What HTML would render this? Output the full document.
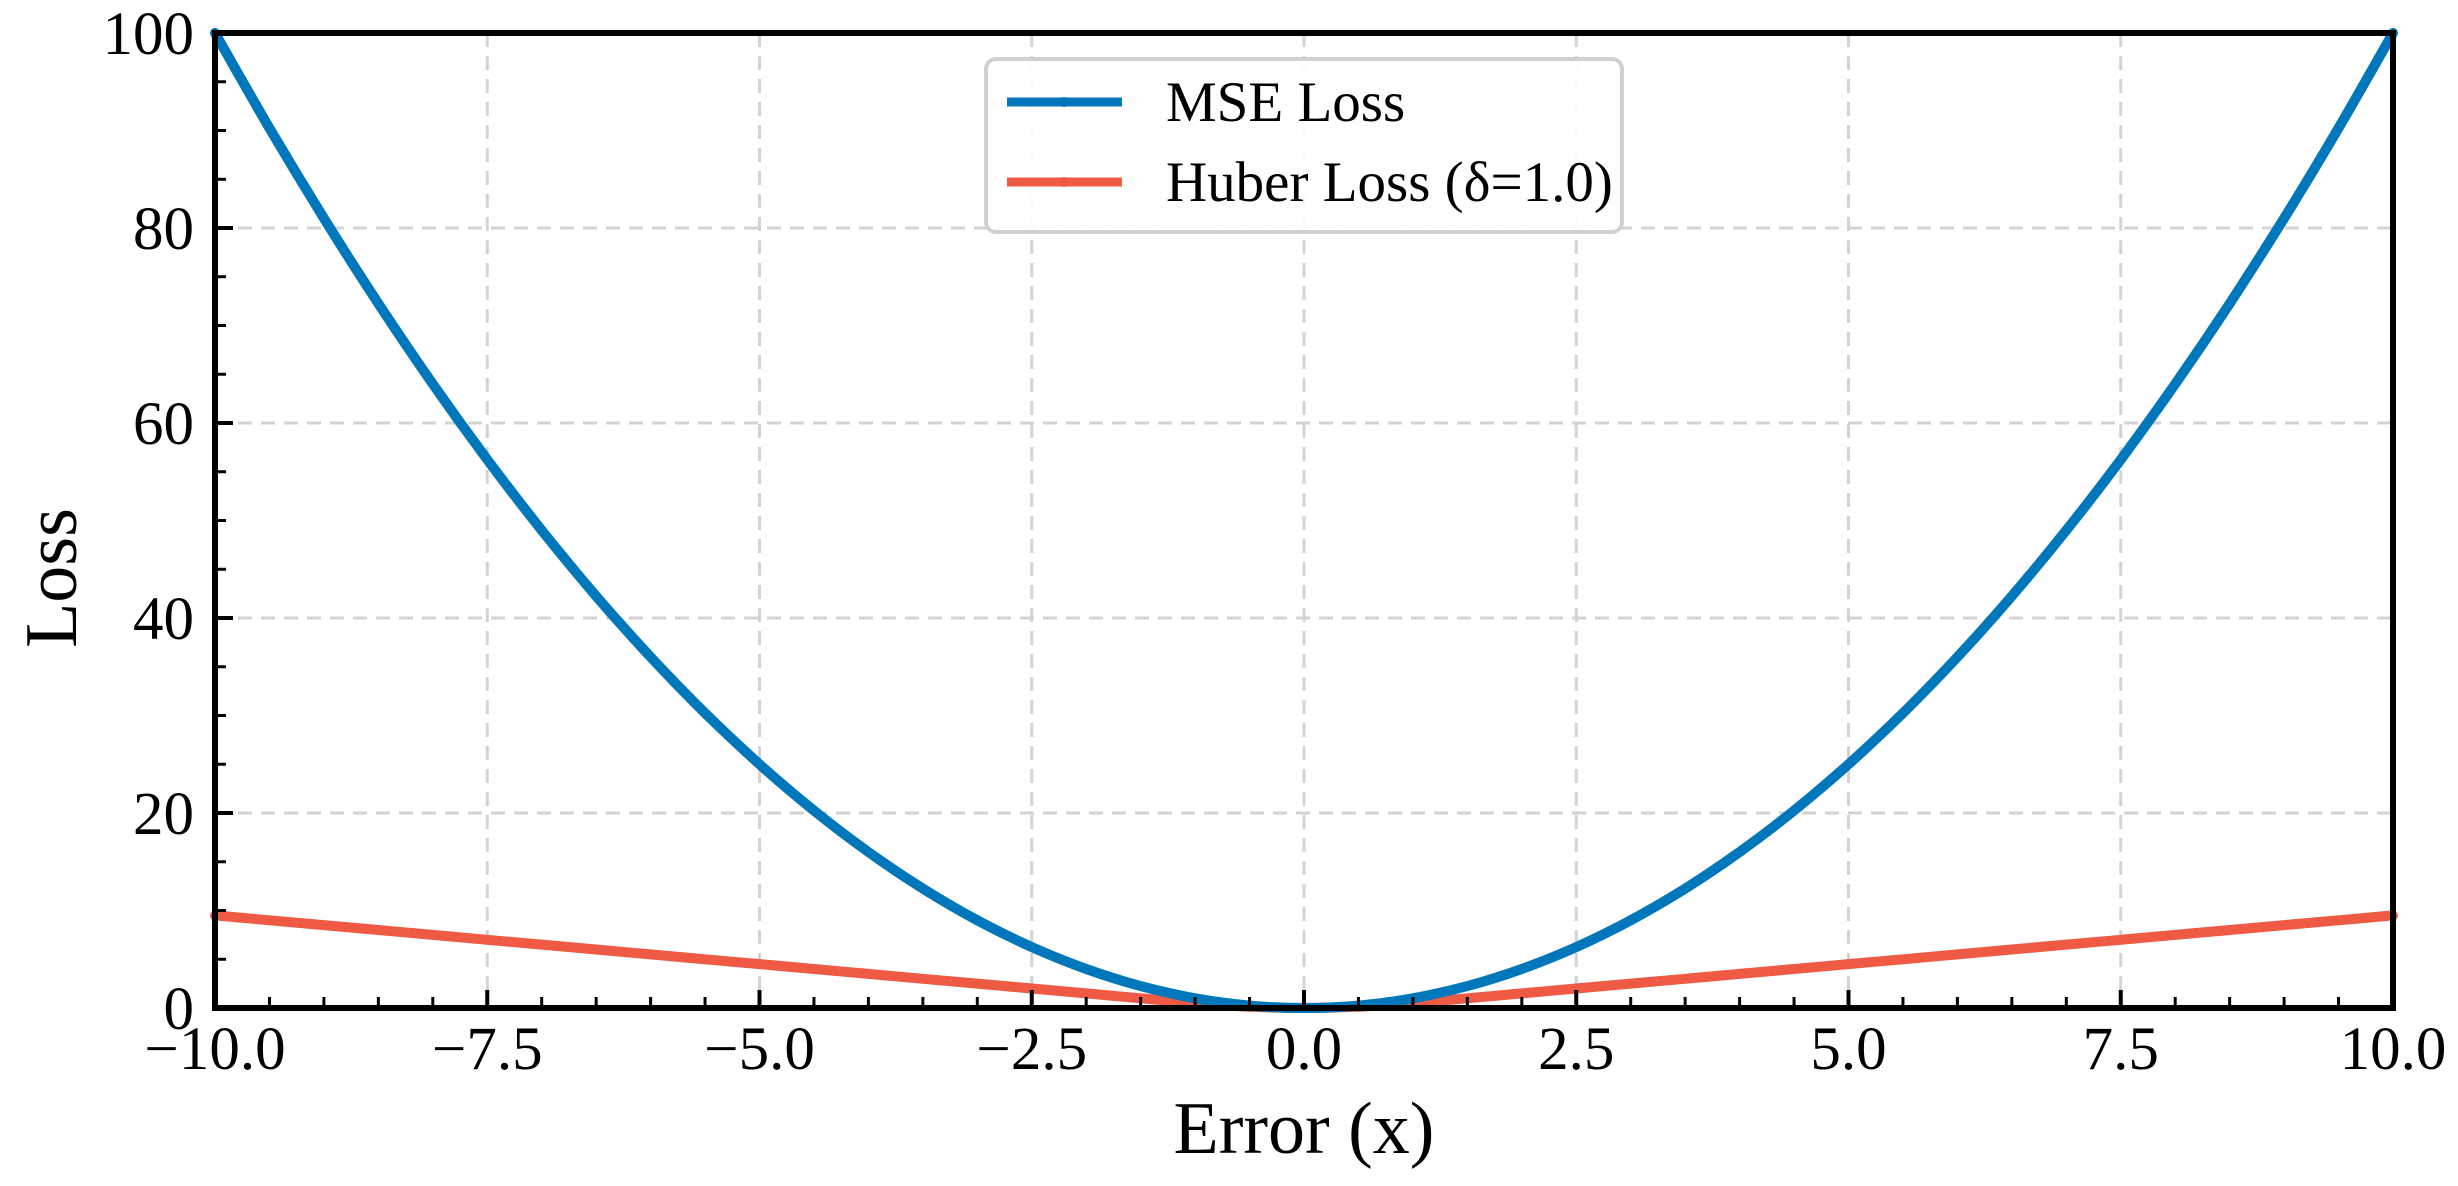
<!DOCTYPE html>
<html><head><meta charset="utf-8"><style>
html,body{margin:0;padding:0;background:#fff;}
svg text{font-family:"Liberation Serif",serif;fill:#000;}
</style></head><body>
<svg id="chart" width="2458" height="1181" xmlns="http://www.w3.org/2000/svg">
<g id="grid"></g>
<g id="series"></g>
<g id="axes"></g>
<g id="legend">
  <rect x="986" y="59" width="636" height="173" rx="10" fill="#fff" fill-opacity="0.9" stroke="#d0d0d0" stroke-width="4"/>
  <line x1="1007" y1="102" x2="1122" y2="102" stroke="#0077bb" stroke-width="9"/>
  <circle cx="1064" cy="102" r="5" fill="#0077bb"/>
  <text x="1166" y="121" font-size="57">MSE Loss</text>
  <line x1="1007" y1="182" x2="1122" y2="182" stroke="#ee5a44" stroke-width="9"/>
  <circle cx="1064" cy="182" r="5" fill="#ee5a44"/>
  <text x="1166" y="201" font-size="57">Huber Loss (δ=1.0)</text>
</g>
<text x="1304" y="1153" font-size="74" text-anchor="middle">Error (x)</text>
<text x="0" y="0" font-size="74" text-anchor="middle" transform="translate(76,578) rotate(-90)">Loss</text>
</svg>
<script>
const xValues = [-10,-9.5,-9,-8.5,-8,-7.5,-7,-6.5,-6,-5.5,-5,-4.5,-4,-3.5,-3,-2.5,-2,-1.5,-1,-0.5,0,0.5,1,1.5,2,2.5,3,3.5,4,4.5,5,5.5,6,6.5,7,7.5,8,8.5,9,9.5,10];
const mseValues = [100,90.25,81,72.25,64,56.25,49,42.25,36,30.25,25,20.25,16,12.25,9,6.25,4,2.25,1,0.25,0,0.25,1,2.25,4,6.25,9,12.25,16,20.25,25,30.25,36,42.25,49,56.25,64,72.25,81,90.25,100];
const huberValues = [9.5,9,8.5,8,7.5,7,6.5,6,5.5,5,4.5,4,3.5,3,2.5,2,1.5,1,0.5,0.125,0,0.125,0.5,1,1.5,2,2.5,3,3.5,4,4.5,5,5.5,6,6.5,7,7.5,8,8.5,9,9.5];
const xTicks = [-10,-7.5,-5,-2.5,0,2.5,5,7.5,10];
const xTickLabels = ["\u221210.0","\u22127.5","\u22125.0","\u22122.5","0.0","2.5","5.0","7.5","10.0"];
const yTicks = [0,20,40,60,80,100];
const yTickLabels = ["0","20","40","60","80","100"];

const L=215,R=2393,T=33,B=1008;
const xS=v=>L+(v+10)/20*(R-L);
const yS=v=>B-v/100*(B-T);
const NS="http://www.w3.org/2000/svg";
function mk(tag,attrs,parent){const e=document.createElementNS(NS,tag);for(const k in attrs)e.setAttribute(k,attrs[k]);parent.appendChild(e);return e;}
const grid=document.getElementById('grid'),series=document.getElementById('series'),axes=document.getElementById('axes');

xTicks.forEach((t,i)=>{
  if(i>0&&i<xTicks.length-1){
    const g=mk('line',{x1:xS(t),x2:xS(t),y1:T,y2:B,stroke:'#d3d3d3','stroke-width':3,'stroke-dasharray':'14,9'},grid);
    
    
  }
  const tk=mk('line',{x1:xS(t),x2:xS(t),y1:B,y2:B-18,stroke:'#000','stroke-width':4},axes);
  
  
  const tx=mk('text',{x:xS(t),y:1069,'font-size':61,'text-anchor':'middle'},axes);
  tx.textContent=xTickLabels[i];
  
  
});
for(let v=-9.5;v<10;v+=0.5){
  if(Math.abs((v/2.5)-Math.round(v/2.5))<1e-9)continue;
  const m=mk('line',{x1:xS(v),x2:xS(v),y1:B,y2:B-11,stroke:'#000','stroke-width':3},axes);
  
  
}
yTicks.forEach((t,i)=>{
  if(i>0&&i<yTicks.length-1){
    const g=mk('line',{x1:L,x2:R,y1:yS(t),y2:yS(t),stroke:'#d3d3d3','stroke-width':3,'stroke-dasharray':'14,9'},grid);
    
    
  }
  const tk=mk('line',{x1:L,x2:L+18,y1:yS(t),y2:yS(t),stroke:'#000','stroke-width':4},axes);
  
  
  const tx=mk('text',{x:194,y:yS(t)+21,'font-size':61,'text-anchor':'end'},axes);
  tx.textContent=yTickLabels[i];
  
  
});
for(let v=5;v<100;v+=5){
  if(v%20===0)continue;
  const m=mk('line',{x1:L,x2:L+11,y1:yS(v),y2:yS(v),stroke:'#000','stroke-width':3},axes);
  
  
}
const frame=mk('rect',{x:L,y:T,width:R-L,height:B-T,fill:'none',stroke:'#000','stroke-width':6},axes);



function drawLine(vals,color,name){
  const P=xValues.map((x,i)=>[xS(x),yS(vals[i])]);
  let d='M'+P[0][0].toFixed(1)+','+P[0][1].toFixed(1);
  for(let i=0;i<P.length-1;i++){
    const p0=P[Math.max(0,i-1)],p1=P[i],p2=P[i+1],p3=P[Math.min(P.length-1,i+2)];
    const c1=[p1[0]+(p2[0]-p0[0])/6,p1[1]+(p2[1]-p0[1])/6];
    const c2=[p2[0]-(p3[0]-p1[0])/6,p2[1]-(p3[1]-p1[1])/6];
    d+=' C'+c1.map(v=>v.toFixed(1)).join(',')+' '+c2.map(v=>v.toFixed(1)).join(',')+' '+p2.map(v=>v.toFixed(1)).join(',');
  }
  const p=mk('path',{d:d,fill:'none',stroke:color,'stroke-width':10,'stroke-linejoin':'round','stroke-linecap':'round'},series);
  
  
}
drawLine(huberValues,'#ee5a44','huber-loss-line');
drawLine(mseValues,'#0077bb','mse-loss-line');
</script>
</body></html>
